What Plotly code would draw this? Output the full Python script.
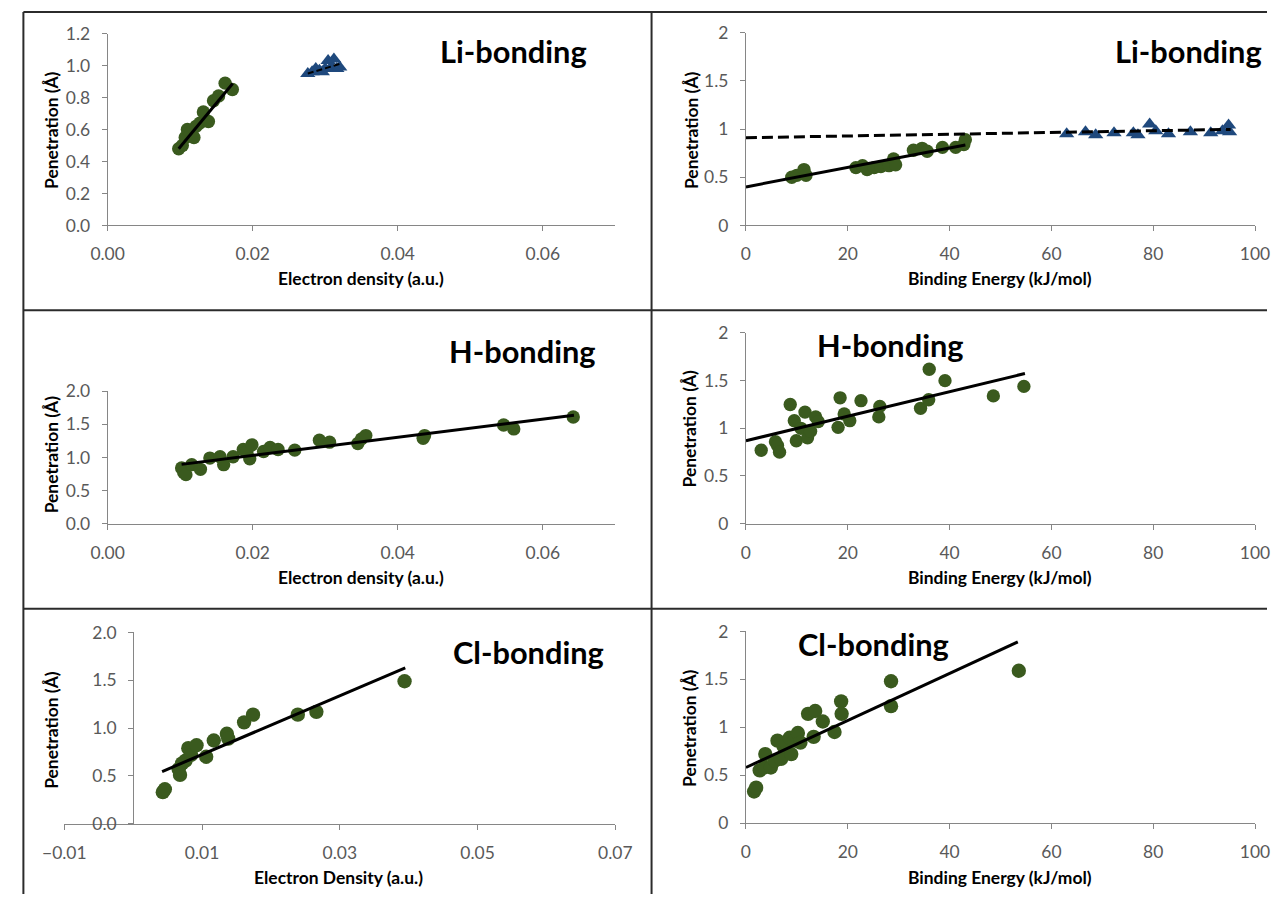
import plotly.graph_objects as go

W, H = 1284, 904

# ---------------- Li-bonding ----------------
li_rho_c = [0.0098, 0.0103, 0.0107, 0.0110, 0.0115, 0.0119, 0.0122, 0.0127,
            0.0132, 0.0139, 0.0146, 0.0153, 0.0162, 0.0172]
li_rho_pen_c = [0.48, 0.50, 0.55, 0.60, 0.58, 0.55, 0.62, 0.64,
                0.71, 0.65, 0.78, 0.81, 0.89, 0.85]
li_rho_t = [0.0276, 0.0282, 0.0287, 0.0292, 0.0296, 0.0300, 0.0304, 0.0308,
            0.0312, 0.0316, 0.0320]
li_rho_pen_t = [0.95, 0.96, 0.98, 0.97, 0.96, 0.98, 1.03, 0.99, 1.04, 0.98, 0.99]
li_rho_fit_c = ([0.0098, 0.01725], [0.48, 0.888])
li_rho_fit_t = ([0.0276, 0.0320], [0.95, 1.01])

li_be_c = [9.0, 10.0, 11.4, 11.8, 21.6, 22.9, 23.8, 25.2, 26.5, 28.1, 29.0,
           29.4, 32.9, 34.6, 35.6, 38.6, 41.2, 42.8, 43.1]
li_be_pen_c = [0.50, 0.52, 0.58, 0.52, 0.60, 0.62, 0.58, 0.60, 0.61, 0.62, 0.69,
               0.63, 0.78, 0.80, 0.77, 0.81, 0.81, 0.84, 0.89]
li_be_t = [63.0, 66.7, 68.7, 72.3, 76.1, 77.0, 79.3, 80.5, 83.0, 87.3, 91.3,
           93.6, 94.8, 95.0]
li_be_pen_t = [0.95, 0.97, 0.94, 0.96, 0.96, 0.94, 1.05, 0.98, 0.95, 0.97, 0.96,
               0.98, 1.04, 0.97]
li_be_fit_c = ([0.0, 43.1], [0.40, 0.835])
li_be_fit_t = ([0.0, 95.2], [0.91, 0.996])

# ---------------- H-bonding ----------------
h_rho = [0.0102, 0.0105, 0.0108, 0.0116, 0.0128, 0.0141, 0.0155, 0.0160, 0.0173,
         0.0187, 0.0192, 0.0196, 0.0199, 0.0215, 0.0224, 0.0235, 0.0258, 0.0292,
         0.0306, 0.0345, 0.0350, 0.0356, 0.0435, 0.0437, 0.0546, 0.0560, 0.0642]
h_rho_pen = [0.84, 0.77, 0.74, 0.89, 0.82, 0.99, 1.01, 0.89, 1.01,
             1.12, 1.08, 0.98, 1.19, 1.09, 1.15, 1.12, 1.11, 1.26,
             1.23, 1.21, 1.28, 1.33, 1.29, 1.33, 1.49, 1.43, 1.61]
h_rho_fit = ([0.0102, 0.0643], [0.895, 1.635])

h_be = [3.0, 5.8, 6.2, 6.6, 8.7, 9.5, 9.9, 10.8, 11.6, 12.1, 12.7, 13.7, 14.2,
        18.1, 18.5, 19.3, 20.4, 22.6, 26.1, 26.3, 34.3, 35.9, 36.0, 39.1, 48.6, 54.6]
h_be_pen = [0.77, 0.86, 0.82, 0.75, 1.25, 1.08, 0.87, 1.00, 1.17, 0.90, 0.97, 1.12, 1.07,
            1.01, 1.32, 1.15, 1.08, 1.29, 1.12, 1.23, 1.21, 1.30, 1.62, 1.50, 1.34, 1.44]
h_be_fit = ([0.0, 54.8], [0.87, 1.575])

# ---------------- Cl-bonding ----------------
cl_rho = [0.0043, 0.0046, 0.0066, 0.0068, 0.0071, 0.0076, 0.0080, 0.0084, 0.0092,
          0.0106, 0.0117, 0.0136, 0.0138, 0.0161, 0.0174, 0.0239, 0.0266, 0.0394]
cl_rho_pen = [0.33, 0.36, 0.57, 0.51, 0.63, 0.66, 0.79, 0.72, 0.82,
              0.70, 0.87, 0.94, 0.89, 1.06, 1.14, 1.14, 1.17, 1.49]
cl_rho_fit = ([0.0042, 0.0395], [0.545, 1.63])

cl_be = [1.6, 2.0, 2.7, 3.6, 3.8, 4.9, 5.7, 6.2, 6.9, 7.4, 7.9, 8.6, 8.9, 9.5,
         10.2, 10.7, 12.2, 13.3, 13.6, 15.1, 17.4, 18.7, 18.8, 28.5, 28.5, 53.6]
cl_be_pen = [0.33, 0.37, 0.55, 0.58, 0.72, 0.58, 0.65, 0.86, 0.67, 0.80, 0.83, 0.89, 0.72, 0.86,
             0.94, 0.84, 1.14, 0.90, 1.17, 1.06, 0.95, 1.27, 1.14, 1.48, 1.22, 1.59]
cl_be_fit = ([0.0, 53.4], [0.58, 1.89])

# axis labels
x_rho_title = "Electron density (a.u.)"
x_rho_title_cl = "Electron Density (a.u.)"
x_be_title = "Binding Energy (kJ/mol)"
y_title = "Penetration (Å)"

GREEN = "#3a5a1e"
BLUE = "#1f497d"
AXIS = "#868686"
TICKTXT = "#595959"
FONT = "Lato"

# layout grid: pixel positions are mapped onto paper fractions
GX0, GXS = 17.6, 0.974
GY0, GYS = 9.1, 0.9786
K = 1.026  # size factor for text and markers


def px(x):
    return min(max((x - GX0) / GXS / W, 0.0), 1.0)


def py(y):
    return min(max(1 - (y - GY0) / GYS / H, 0.0), 1.0)


fig = go.Figure()


def circles(x, y, n, size=13):
    fig.add_trace(go.Scatter(x=x, y=y, mode="markers", xaxis=f"x{n}", yaxis=f"y{n}",
                             marker=dict(color=GREEN, size=size * K, line=dict(width=0)),
                             showlegend=False, hoverinfo="skip"))


def triangles(x, y, n):
    fig.add_trace(go.Scatter(x=x, y=y, mode="markers", xaxis=f"x{n}", yaxis=f"y{n}",
                             marker=dict(color=BLUE, size=13 * K, symbol="triangle-up",
                                         line=dict(width=0)),
                             showlegend=False, hoverinfo="skip"))


def trend(fit, n, dash="solid", width=3):
    fig.add_trace(go.Scatter(x=fit[0], y=fit[1], mode="lines", xaxis=f"x{n}", yaxis=f"y{n}",
                             line=dict(color="black", width=width, dash=dash),
                             showlegend=False, hoverinfo="skip"))


# panel 1
circles(li_rho_c, li_rho_pen_c, 1)
triangles(li_rho_t, li_rho_pen_t, 1)
trend(li_rho_fit_c, 1)
trend(li_rho_fit_t, 1, dash="6px,3px", width=2)
# panel 2
circles(li_be_c, li_be_pen_c, 2)
triangles(li_be_t, li_be_pen_t, 2)
trend(li_be_fit_c, 2)
trend(li_be_fit_t, 2, dash="11px,5px")
# panel 3
circles(h_rho, h_rho_pen, 3)
trend(h_rho_fit, 3)
# panel 4
circles(h_be, h_be_pen, 4, size=13)
trend(h_be_fit, 4)
# panel 5
circles(cl_rho, cl_rho_pen, 5, size=14)
trend(cl_rho_fit, 5)
# panel 6
circles(cl_be, cl_be_pen, 6, size=14)
trend(cl_be_fit, 6)

# first panel uses the plain "x"/"y" axis names
for tr in fig.data:
    if tr.xaxis == "x1":
        tr.xaxis = "x"
        tr.yaxis = "y"

tickfont = dict(family=FONT, size=17 * K, color=TICKTXT)
common = dict(showgrid=False, zeroline=False, showline=True, linecolor=AXIS, linewidth=1,
              ticks="outside", ticklen=5, tickcolor=AXIS, tickwidth=1, tickfont=tickfont,
              fixedrange=True)

panels = [
    # n, x domain px, y domain px (bottom, top), x range, x ticks, x fmt, y range, y ticks, y fmt
    (1, (103.6, 613.6), (224.0, 31.7), [0, 0.07], [0, 0.02, 0.04, 0.06], ".2f",
     [0, 1.2], [0, 0.2, 0.4, 0.6, 0.8, 1.0, 1.2], ".1f"),
    (2, (744.8, 1256.2), (224.0, 30.7), [0, 100], [0, 20, 40, 60, 80, 100], "",
     [0, 2], [0, 0.5, 1, 1.5, 2], ""),
    (3, (103.6, 613.6), (522.7, 390.0), [0, 0.07], [0, 0.02, 0.04, 0.06], ".2f",
     [0, 2], [0, 0.5, 1.0, 1.5, 2.0], ".1f"),
    (4, (744.8, 1256.2), (522.7, 331.7), [0, 100], [0, 20, 40, 60, 80, 100], "",
     [0, 2], [0, 0.5, 1, 1.5, 2], ""),
    (5, (60.1, 613.6), (823.3, 631.7), [-0.01, 0.07], [-0.01, 0.01, 0.03, 0.05, 0.07], ".2f",
     [0, 2], [0, 0.5, 1.0, 1.5, 2.0], ".1f"),
    (6, (744.8, 1256.2), (822.7, 630.7), [0, 100], [0, 20, 40, 60, 80, 100], "",
     [0, 2], [0, 0.5, 1, 1.5, 2], ""),
]

layout_axes = {}
for n, xd, yd, xr, xt, xf, yr, yt, yf in panels:
    sfx = "" if n == 1 else str(n)
    xa = dict(common, domain=[px(xd[0]), px(xd[1])], range=xr, tickmode="array", tickvals=xt,
              tickformat=xf, anchor=f"y{sfx}", ticklabelstandoff=8)
    ya = dict(common, domain=[py(yd[0]), py(yd[1])], range=yr, tickmode="array", tickvals=yt,
              tickformat=yf, anchor=f"x{sfx}", ticklabelstandoff=8)
    if n == 5:
        # vertical axis crosses the horizontal one at x = 0
        ya["anchor"] = "free"
        ya["position"] = px(129.3)
    layout_axes[f"xaxis{sfx}"] = xa
    layout_axes[f"yaxis{sfx}"] = ya

annotations = []


def text(x, y, s, size, angle=0):
    annotations.append(dict(x=px(x), y=py(y), xref="paper", yref="paper", text=f"<b>{s}</b>",
                            showarrow=False, xanchor="center", yanchor="middle",
                            textangle=angle,
                            font=dict(family=FONT, size=size * K, color="black")))


# panel titles
text(511, 50, "Li-bonding", 30)
text(1189, 50, "Li-bonding", 30)
text(520, 350, "H-bonding", 30)
text(890, 344, "H-bonding", 30)
text(526, 652, "Cl-bonding", 30)
text(873, 644, "Cl-bonding", 30)

# axis titles
text(358.6, 277, x_rho_title, 17)
text(1000, 277, x_be_title, 17)
text(358.6, 577, x_rho_title, 17)
text(1000, 577, x_be_title, 17)
text(336, 877, x_rho_title_cl, 17)
text(1000, 877, x_be_title, 17)
for yc, xc in [(128, 47), (128, 690), (453, 47), (427, 688), (729, 47), (727, 688)]:
    text(xc, yc, y_title, 17, angle=-90)

# panel frame
FRAME = "#2b2b2b"
shapes = []
for x0, y0, x1, y1 in [(19, 10, 1284, 10), (19, 10, 19, 904), (650, 10, 650, 904),
                       (19, 309, 1284, 309), (19, 608, 1284, 608)]:
    shapes.append(dict(type="line", xref="paper", yref="paper", x0=px(x0), y0=py(y0),
                       x1=px(x1), y1=py(y1), line=dict(color=FRAME, width=2)))

fig.update_layout(width=W, height=H, margin=dict(l=0, r=0, t=0, b=0),
                  paper_bgcolor="white", plot_bgcolor="white",
                  annotations=annotations, shapes=shapes, showlegend=False,
                  **layout_axes)

fig.write_html("out.html", config=dict(displayModeBar=False, staticPlot=True, responsive=False),
               post_script="document.documentElement.style.margin='0';"
                           "document.documentElement.style.overflow='hidden';"
                           "document.body.style.margin='0';"
                           "document.body.style.overflow='hidden';")
